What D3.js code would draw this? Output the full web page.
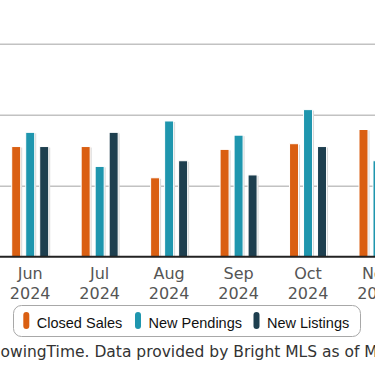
<!DOCTYPE html>
<html>
<head>
<meta charset="utf-8">
<script src="https://cdn.jsdelivr.net/npm/d3@7/dist/d3.min.js"></script>
<style>
  html, body { margin: 0; padding: 0; background: #fff; }
  svg { display: block; }
</style>
</head>
<body>
<svg id="chart" width="375" height="366"></svg>
<script>
// ---- data ----
const months = ["Jun", "Jul", "Aug", "Sep", "Oct", "Nov"];
const years = ["2024", "2024", "2024", "2024", "2024", "2024"];
const seriesNames = ["Closed Sales", "New Pendings", "New Listings"];
const seriesColors = ["#DA5F12", "#1F96AE", "#1E3F4F"];
const closedSales = [39, 39, 28, 38, 40, 45];
const newPendings = [44, 32, 48, 43, 52, 34];
const newListings = [39, 44, 34, 29, 39, 40];
const yTicks = [0, 25, 50, 75];
const sourceText = "Source: ShowingTime. Data provided by Bright MLS as of May 2025";

const seriesValues = [closedSales, newPendings, newListings];

const svg = d3.select("#chart");

// ---- scales ----
const groupWidth = 37;
const pitch = 69.46;
const x = d3.scaleBand()
  .domain(months)
  .range([11.7, 11.7 + (months.length - 1) * pitch + groupWidth])
  .paddingInner(1 - groupWidth / pitch)
  .paddingOuter(0);

const xs = d3.scaleBand()
  .domain(seriesNames)
  .range([0, x.bandwidth()])
  .paddingInner(0.357)
  .paddingOuter(0);

const y = d3.scaleLinear().domain([0, 75]).range([257.3, 44.3]);

// ---- gridlines ----
svg.append("g")
  .selectAll("line")
  .data(yTicks.filter(d => d > 0))
  .join("line")
  .attr("x1", 0).attr("x2", 375)
  .attr("y1", d => y(d)).attr("y2", d => y(d))
  .attr("stroke", "#c2c2c2")
  .attr("stroke-width", 1.5);

// ---- bars ----
const barData = [];
months.forEach((m, i) => {
  seriesNames.forEach((s, j) => {
    barData.push({ month: m, series: s, value: seriesValues[j][i], color: seriesColors[j] });
  });
});

// soft shadow
svg.append("g")
  .selectAll("rect")
  .data(barData)
  .join("rect")
  .attr("x", d => x(d.month) + xs(d.series) + 1.5)
  .attr("y", d => y(d.value) + 1)
  .attr("width", xs.bandwidth())
  .attr("height", d => y(0) - y(d.value) - 1)
  .attr("fill", "#d8d8d8");

svg.append("g")
  .selectAll("rect")
  .data(barData)
  .join("rect")
  .attr("x", d => x(d.month) + xs(d.series))
  .attr("y", d => y(d.value))
  .attr("width", xs.bandwidth())
  .attr("height", d => y(0) - y(d.value))
  .attr("fill", d => d.color)
  .attr("stroke", "#ffffff")
  .attr("stroke-width", 1);

// ---- baseline ----
svg.append("line")
  .attr("x1", 0).attr("x2", 375)
  .attr("y1", y(0) - 0.5).attr("y2", y(0) - 0.5)
  .attr("stroke", "#222")
  .attr("stroke-width", 2);

// ---- x axis labels ----
const xl = svg.append("g")
  .selectAll("text")
  .data(months)
  .join("text")
  .attr("x", d => x(d) + x.bandwidth() / 2)
  .attr("text-anchor", "middle")
  .attr("font-family", "DejaVu Sans, Verdana, sans-serif")
  .attr("font-size", 16)
  .attr("fill", "#555");
xl.append("tspan").attr("x", d => x(d) + x.bandwidth() / 2).attr("y", 279).text(d => d);
xl.append("tspan").attr("x", d => x(d) + x.bandwidth() / 2).attr("y", 298.5).text((d, i) => years[i]);

// ---- legend ----
const legend = svg.append("g");
legend.append("rect")
  .attr("x", 13.5).attr("y", 305.5)
  .attr("width", 347).attr("height", 31)
  .attr("rx", 8).attr("ry", 8)
  .attr("fill", "#fff")
  .attr("stroke", "#a8a8a8")
  .attr("stroke-width", 1);

const legendX = [23.3, 135, 253.5];
const lg = legend.selectAll("g.item")
  .data(seriesNames)
  .join("g")
  .attr("class", "item")
  .attr("transform", (d, i) => `translate(${legendX[i]},0)`);
lg.append("rect")
  .attr("x", 0).attr("y", 312)
  .attr("width", 6).attr("height", 17)
  .attr("rx", 3).attr("ry", 3)
  .attr("fill", (d, i) => seriesColors[i]);
lg.append("text")
  .attr("x", 13.5).attr("y", 327.7)
  .attr("font-family", "Liberation Sans, Arial, sans-serif")
  .attr("font-size", 14.5)
  .attr("fill", "#111")
  .text(d => d);

// ---- source note (partially out of view) ----
const measure = svg.append("text")
  .attr("font-family", "DejaVu Sans, Verdana, sans-serif")
  .attr("font-size", 15.5)
  .text("Source: Sh");
const prefixW = measure.node().getComputedTextLength();
measure.remove();
svg.append("text")
  .attr("x", 0.5 - prefixW)
  .attr("y", 357.3)
  .attr("font-family", "DejaVu Sans, Verdana, sans-serif")
  .attr("font-size", 15.5)
  .attr("fill", "#333")
  .text(sourceText);
</script>
</body>
</html>
